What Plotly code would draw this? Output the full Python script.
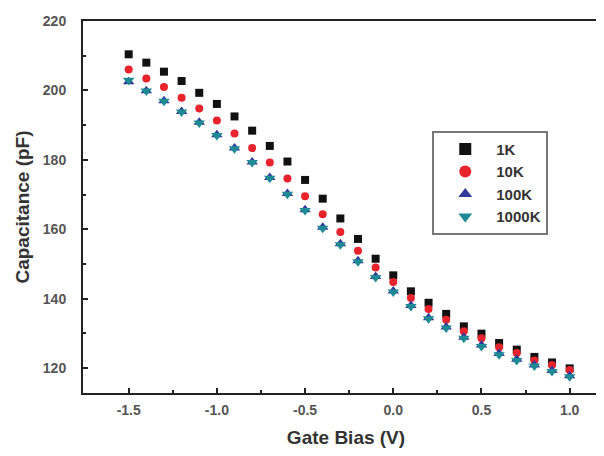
import plotly.graph_objects as go

gate_bias = [-1.5, -1.4, -1.3, -1.2, -1.1, -1.0, -0.9, -0.8, -0.7, -0.6, -0.5, -0.4, -0.3,
             -0.2, -0.1, 0.0, 0.1, 0.2, 0.3, 0.4, 0.5, 0.6, 0.7, 0.8, 0.9, 1.0]

cap_1k = [210.4, 208.0, 205.4, 202.7, 199.3, 196.1, 192.5, 188.4, 184.0, 179.5, 174.2, 168.8, 163.1,
          157.2, 151.5, 146.7, 142.1, 138.8, 135.6, 132.0, 129.9, 127.2, 125.3, 123.2, 121.6, 119.9]
cap_10k = [206.0, 203.4, 201.0, 197.9, 194.8, 191.3, 187.6, 183.4, 179.2, 174.6, 169.5, 164.3, 159.2,
           153.8, 149.0, 144.8, 140.2, 137.0, 133.9, 130.6, 128.6, 126.0, 124.3, 122.2, 120.9, 119.4]
cap_100k = [202.5, 199.9, 197.0, 193.9, 190.8, 187.2, 183.4, 179.4, 174.9, 170.3, 165.6, 160.6, 155.8,
            150.9, 146.4, 142.2, 138.0, 134.5, 131.8, 128.9, 126.6, 124.2, 122.5, 120.9, 119.3, 117.8]
cap_1000k = [202.9, 199.8, 196.9, 193.8, 190.6, 187.0, 183.2, 179.2, 174.7, 170.1, 165.4, 160.3, 155.5,
             150.6, 146.1, 141.9, 137.7, 134.2, 131.5, 128.6, 126.2, 123.8, 122.2, 120.6, 119.0, 117.5]

series_names = ["1K", "10K", "100K", "1000K"]

fig = go.Figure()
styles = [
    ("square", "#111111", 8),
    ("circle", "#e8232b", 8),
    ("triangle-up", "#2f3a9a", 10),
    ("triangle-down", "#1e8a94", 10),
]
for name, vals, (sym, col, sz) in zip(series_names, [cap_1k, cap_10k, cap_100k, cap_1000k], styles):
    fig.add_trace(go.Scatter(
        x=gate_bias, y=vals, mode="markers", name=name,
        marker=dict(symbol=sym, color=col, size=sz, line=dict(width=0)),
    ))

FAM = "Liberation Sans, Arial, sans-serif"
tick_font = dict(family=FAM, size=14, color="#555555", weight="bold")
title_font = dict(family=FAM, size=19, color="#333333", weight="bold")

fig.update_layout(
    width=604, height=456,
    margin=dict(l=75, r=3, t=13, b=71),
    paper_bgcolor="white", plot_bgcolor="white",
    showlegend=True,
    legend=dict(
        x=0.664, y=0.705, xanchor="left", yanchor="top",
        bgcolor="white", bordercolor="#777777", borderwidth=2,
        font=dict(family=FAM, size=15, color="#333333", weight="bold"),
        itemsizing="constant", itemwidth=52, tracegroupgap=0,
    ),
    xaxis=dict(
        range=[-1.759, 1.223],
        tickvals=[-1.5, -1.0, -0.5, 0.0, 0.5, 1.0],
        ticktext=["-1.5", "-1.0", "-0.5", "0.0", "0.5", "1.0"],
        ticks="inside", ticklen=5, tickwidth=2, tickcolor="#222222",
        minor=dict(tickvals=[-1.25, -0.75, -0.25, 0.25, 0.75], ticks="inside", ticklen=3, tickwidth=2, tickcolor="#222222"),
        showline=True, linecolor="#222222", linewidth=2, mirror=True,
        showgrid=False, zeroline=False,
        tickfont=tick_font, ticklabelstandoff=3,
        title=dict(text="Gate Bias (V)", font=title_font, standoff=14),
    ),
    yaxis=dict(
        range=[112.8, 220],
        tickvals=[120, 140, 160, 180, 200, 220],
        ticks="inside", ticklen=5, tickwidth=2, tickcolor="#222222",
        minor=dict(tickvals=[130, 150, 170, 190, 210], ticks="inside", ticklen=3, tickwidth=2, tickcolor="#222222"),
        showline=True, linecolor="#222222", linewidth=2, mirror=False,
        showgrid=False, zeroline=False,
        tickfont=tick_font, ticklabelstandoff=12,
        title=dict(text="Capacitance (pF)", font=title_font, standoff=8),
    ),
)

fig.write_html("out.html")
